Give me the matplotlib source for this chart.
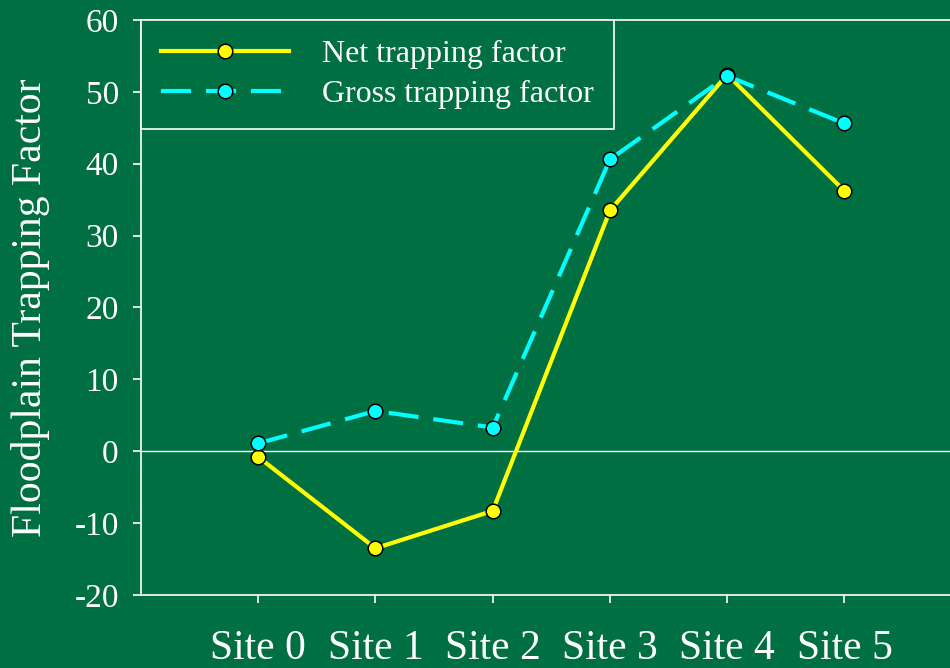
import matplotlib
matplotlib.use("Agg")
import matplotlib.pyplot as plt

sites = ["Site 0", "Site 1", "Site 2", "Site 3", "Site 4", "Site 5"]
net_trapping = [-0.8, -13.5, -8.3, 33.5, 52.4, 36.2]
gross_trapping = [1.1, 5.6, 3.3, 40.6, 52.2, 45.6]
y_ticks = [-20, -10, 0, 10, 20, 30, 40, 50, 60]

bg = "#007042"
plt.rcParams["font.family"] = ["Liberation Serif", "DejaVu Serif"]

fig = plt.figure(figsize=(9.5, 6.68), dpi=100, facecolor=bg)
ax = fig.add_axes([0.1484, 0.1093, 0.8516, 0.8608], facecolor=bg)

x = list(range(len(sites)))
ax.axhline(0, color="white", lw=1)
ax.plot(x, net_trapping, color="#ffff00", lw=3, marker="o", ms=10.5,
        mfc="#ffff00", mec="black", mew=1.1, label="Net trapping factor")
ax.plot(x, gross_trapping, color="#00ffff", lw=3, dashes=(7.2, 3.6), marker="o", ms=10.5,
        mfc="#00ffff", mec="black", mew=1.1, label="Gross trapping factor")

ax.set_xlim(-1, 5.9)
ax.set_ylim(-20, 60)
ax.set_xticks(x)
ax.set_xticklabels(sites, fontsize=30, color="white")
ax.set_yticks(y_ticks)
ax.set_yticklabels([str(v) for v in y_ticks], fontsize=24, color="white")
ax.tick_params(axis="x", colors="white", length=6, width=1.2, pad=19)
ax.tick_params(axis="y", colors="white", length=6, width=1.2, pad=10)
ax.set_ylabel("Floodplain Trapping Factor", fontsize=30, color="white")
ax.yaxis.set_label_coords(-0.113, 0.5)

for side in ["left", "bottom", "top"]:
    ax.spines[side].set_color("white")
    ax.spines[side].set_linewidth(1.2)
ax.spines["right"].set_visible(False)

leg = ax.legend(loc="upper left", bbox_to_anchor=(0, 1), borderaxespad=0,
                fontsize=23, frameon=True, fancybox=False, handlelength=4.0,
                handletextpad=1.05, borderpad=0.62, labelspacing=0.33)
leg.get_frame().set_facecolor(bg)
leg.get_frame().set_edgecolor("white")
leg.get_frame().set_linewidth(1.2)
leg.get_frame().set_alpha(1)
for t in leg.get_texts():
    t.set_color("white")

fig.savefig("out.png", dpi=100, facecolor=bg)
